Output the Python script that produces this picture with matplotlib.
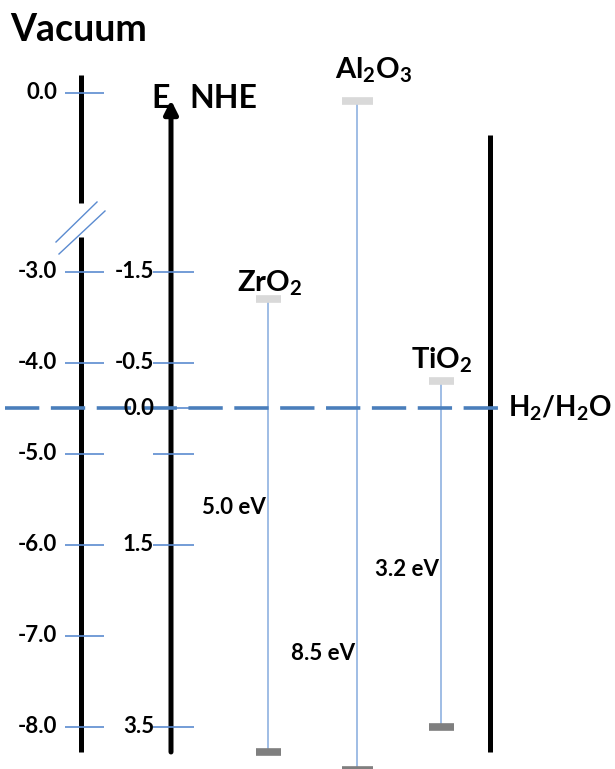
import matplotlib.pyplot as plt
import numpy as np

plt.rcParams['font.family'] = ['Lato', 'DejaVu Sans']
plt.rcParams['mathtext.fontset'] = 'custom'
plt.rcParams['mathtext.rm'] = 'Lato:bold'
plt.rcParams['mathtext.it'] = 'Lato:bold'
plt.rcParams['mathtext.bf'] = 'Lato:bold'

# energy levels vs vacuum (eV)
vac_ticks = [0.0, -3.0, -4.0, -5.0, -6.0, -7.0, -8.0]
vac_labels = ['0.0', '-3.0', '-4.0', '-5.0', '-6.0', '-7.0', '-8.0']
nhe_values = [-1.5, -0.5, 0.0, 0.5, 1.5, 3.5]
nhe_labels = ['-1.5', '-0.5', '0.0', '', '1.5', '3.5']
h2_level = -4.5

materials = ['ZrO$_2$', 'Al$_2$O$_3$', 'TiO$_2$']
cb = [-3.3, -0.14, -4.2]
vb = [-8.27, -8.47, -8.0]
gap_labels = ['5.0 eV', '8.5 eV', '3.2 eV']

# broken axis: region above -3 eV is compressed
K = 179 / 91 / 3


def fwd(e):
    e = np.asarray(e, dtype=float)
    return np.where(e > -3, -3 + (e + 3) * K, e)


def inv(t):
    t = np.asarray(t, dtype=float)
    return np.where(t > -3, -3 + (t + 3) / K, t)


BLUE = '#5b8bd0'
LINE = '#8fb2e0'

fig = plt.figure(figsize=(6.15, 7.69), dpi=100)

# layout overlay in pixel units
lay = fig.add_axes([0, 0, 1, 1])
lay.set_xlim(0, 615)
lay.set_ylim(769, 0)
lay.axis('off')

ax = fig.add_axes([0, 0, 1, 1])
ax.patch.set_alpha(0)
ax.set_xlim(0, 615)
ax.set_yscale('function', functions=(fwd, inv))
ax.set_ylim(inv(-3 - 497 / 91), inv(-3 + 272 / 91))
ax.axis('off')

# vacuum axis with break
lay.plot([81, 81], [75, 203], color='k', lw=3.6, solid_capstyle='butt')
lay.plot([81, 81], [237, 752], color='k', lw=3.6, solid_capstyle='butt')
lay.plot([56, 97], [242, 202], color=BLUE, lw=1)
lay.plot([59, 105], [254, 211], color=BLUE, lw=1)

# NHE arrow axis
lay.annotate('', xy=(171, 100), xytext=(171, 752),
             arrowprops=dict(arrowstyle='-|>', lw=3.6, color='k',
                             mutation_scale=20, shrinkA=0, shrinkB=0))
# right boundary line
lay.plot([490, 490], [135, 752], color='k', lw=3.6, solid_capstyle='butt')

lay.text(10, 30, 'Vacuum', fontsize=27, fontweight='bold', va='center', ha='left')
lay.text(151, 98, 'E', fontsize=23, fontweight='bold', va='center', ha='left')
lay.text(189, 98, 'NHE', fontsize=23, fontweight='bold', va='center', ha='left')

# vacuum scale ticks
ax.hlines(vac_ticks, 65, 104, color=BLUE, lw=1.2)
for v, lab in zip(vac_ticks, vac_labels):
    ax.text(57, v, lab, fontsize=16, fontweight='bold', ha='right', va='center')

# NHE scale ticks
nhe_pos = [h2_level - n for n in nhe_values]
ax.hlines(nhe_pos, 153, 194, color=BLUE, lw=1.2)
for p, lab in zip(nhe_pos, nhe_labels):
    ax.text(154, p, lab, fontsize=16, fontweight='bold', ha='right', va='center', zorder=5)

# H2/H2O level
ax.plot([5, 500], [h2_level, h2_level], color='#4a7ebb', lw=2.6,
        dashes=(9.5, 3.2), zorder=3)
ax.text(508, h2_level, 'H$_2$/H$_2$O', fontsize=20, fontweight='bold',
        ha='left', va='center')

# materials
mat_x = [268, 357, 441]
bar_w = [25, 31, 25]
name_x = [270, 374, 442]
name_y = [283, 70, 360]
gap_y = [507, 653, 570]
for i in range(len(materials)):
    x = mat_x[i]
    ax.vlines(x, vb[i], cb[i], color=LINE, lw=1.2, zorder=2)
    ax.hlines(cb[i], x - bar_w[i] / 2, x + bar_w[i] / 2, color='#d9d9d9', lw=5.5, zorder=3)
    ax.hlines(vb[i], x - bar_w[i] / 2, x + bar_w[i] / 2, color='#7f7f7f', lw=5.5, zorder=3)
    lay.text(name_x[i], name_y[i], materials[i], fontsize=21, fontweight='bold',
             ha='center', va='center')
    lay.text(x - 2, gap_y[i], gap_labels[i], fontsize=16, fontweight='bold',
             ha='right', va='center')

fig.savefig('out.png', dpi=100)
